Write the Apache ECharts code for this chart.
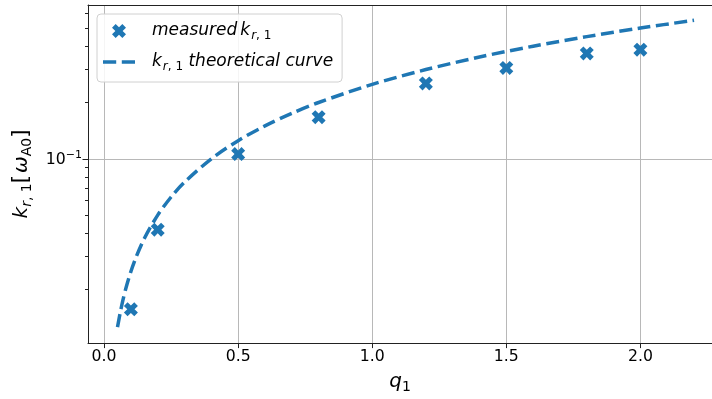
<!DOCTYPE html>
<html>
<head>
<meta charset="utf-8">
<script src="https://cdn.jsdelivr.net/npm/echarts@6/dist/echarts.min.js"></script>
<style>html,body{margin:0;padding:0;background:#fff}#c{width:712px;height:399px}</style>
</head>
<body>
<div id="c"></div>
<script>
// measured points
const qMeasured = [0.1, 0.2, 0.5, 0.8, 1.2, 1.5, 1.8, 2.0];
const kMeasured = [0.0157, 0.0418, 0.106, 0.167, 0.253, 0.306, 0.366, 0.383];
// theoretical curve
const qTheory = [0.05, 0.06, 0.07, 0.08, 0.1, 0.12, 0.15, 0.2, 0.25, 0.3, 0.4, 0.5, 0.6, 0.7, 0.8, 1.0, 1.2, 1.4, 1.6, 1.8, 2.0, 2.2];
const kTheory = [0.0126, 0.015, 0.0175, 0.02, 0.025, 0.03, 0.0375, 0.05, 0.0625, 0.075, 0.1, 0.125, 0.15, 0.175, 0.2, 0.25, 0.3, 0.35, 0.4, 0.45, 0.5, 0.55];
// ticks
const xTicks = [0, 0.5, 1.0, 1.5, 2.0];
const yMajorTicks = [0.1];
const yMinorTicks = [0.02, 0.03, 0.04, 0.05, 0.06, 0.07, 0.08, 0.09, 0.2, 0.3, 0.4, 0.5, 0.6];

const BLUE = '#1f77b4';
const FONT = 'DejaVu Sans';
const XPATH = 'path://M0,2.6 L2.6,0 L5,2.4 L7.4,0 L10,2.6 L7.6,5 L10,7.4 L7.4,10 L5,7.6 L2.6,10 L0,7.4 L2.4,5 Z';
const DASHICON = 'path://M0,0 L13,0 L13,3.5 L0,3.5 Z M18.5,0 L31.5,0 L31.5,3.5 L18.5,3.5 Z';
const XMIN = -0.06, XMAX = 2.267, YMIN = 0.01035, YMAX = 0.664;

const chart = echarts.init(document.getElementById('c'), null, {renderer: 'canvas'});
const legRich = {
  it: {fontFamily: FONT, fontStyle: 'italic', fontSize: 17, lineHeight: 22, color: '#000'},
  kk: {fontFamily: FONT, fontStyle: 'italic', fontSize: 17, lineHeight: 22, color: '#000', padding: [0, 0, 0, 3]},
  pad: {fontFamily: FONT, fontStyle: 'italic', fontSize: 17, lineHeight: 22, color: '#000', padding: [0, 0, 0, 12]},
  sub: {fontFamily: FONT, fontStyle: 'italic', fontSize: 12, lineHeight: 12, padding: [10, 0, 0, 1], color: '#000'},
  subu: {fontFamily: FONT, fontSize: 12, lineHeight: 12, padding: [10, 0, 0, 0], color: '#000'}
};
chart.setOption({
  animation: false,
  grid: {left: 88, right: 0, top: 5, bottom: 53, show: false},
  legend: {
    orient: 'vertical', left: 97, top: 14,
    padding: [6, 9, 9, 6], itemGap: 9,
    itemWidth: 32, itemHeight: 14,
    backgroundColor: 'rgba(255,255,255,0.85)', borderColor: '#d0d0d0', borderWidth: 1, borderRadius: 4,
    data: [{name: 'measured', icon: XPATH}, {name: 'theory', icon: DASHICON}],
    formatter: function (n) {
      if (n === 'measured') return '{pad|measured}{kk|k}{sub|r}{subu|, 1}';
      return '{pad|k}{sub|r}{subu|, 1}{it| theoretical curve}';
    },
    textStyle: {rich: legRich}
  },
  xAxis: [
    {
      type: 'value', min: XMIN, max: XMAX,
      axisLine: {show: true, onZero: false, lineStyle: {color: '#222', width: 1}},
      axisTick: {show: true, customValues: xTicks, length: 5, lineStyle: {color: '#222'}},
      axisLabel: {customValues: xTicks, formatter: v => v.toFixed(1), fontFamily: FONT, fontSize: 15.7, color: '#000', margin: 6},
      splitLine: {show: true, lineStyle: {color: '#b8b8b8', width: 1}},
      name: '{q|q}{s|1}', nameLocation: 'middle', nameGap: 24,
      nameTextStyle: {rich: {
        q: {fontFamily: FONT, fontStyle: 'italic', fontSize: 20, lineHeight: 24, color: '#000'},
        s: {fontFamily: FONT, fontSize: 14, lineHeight: 14, padding: [10, 0, 0, 0], color: '#000'}
      }}
    },
    {
      type: 'value', min: XMIN, max: XMAX, position: 'top',
      axisLine: {show: true, onZero: false, lineStyle: {color: '#222', width: 1}},
      axisTick: {show: false}, axisLabel: {show: false}, splitLine: {show: false}
    }
  ],
  yAxis: [
    {
      type: 'log', logBase: 10, min: YMIN, max: YMAX,
      axisLine: {show: true, onZero: false, lineStyle: {color: '#222', width: 1}},
      axisTick: {show: true, customValues: yMinorTicks, length: 3, lineStyle: {color: '#222'}},
      axisLabel: {show: false},
      splitLine: {show: false},
      name: '{k|k}{s|r}{su|, 1}{b|[}{w|ω}{su2|A0}{b|]}', nameLocation: 'middle', nameGap: 53, nameRotate: 90,
      nameTextStyle: {rich: {
        k: {fontFamily: FONT, fontStyle: 'italic', fontSize: 20, lineHeight: 26, color: '#000'},
        w: {fontFamily: FONT, fontStyle: 'italic', fontSize: 20, lineHeight: 26, color: '#000', padding: [0, 0, 0, 2]},
        b: {fontFamily: FONT, fontSize: 21, lineHeight: 26, color: '#000'},
        s: {fontFamily: FONT, fontStyle: 'italic', fontSize: 14, lineHeight: 14, padding: [11, 0, 0, 0], color: '#000'},
        su: {fontFamily: FONT, fontSize: 14, lineHeight: 14, padding: [11, 0, 0, 0], color: '#000'},
        su2: {fontFamily: FONT, fontSize: 14, lineHeight: 14, padding: [11, 0, 0, 0], color: '#000'}
      }}
    },
    {
      type: 'log', logBase: 10, min: YMIN, max: YMAX, position: 'left',
      axisLine: {show: false, onZero: false},
      axisTick: {show: true, customValues: yMajorTicks, length: 5.5, lineStyle: {color: '#222'}},
      axisLabel: {
        customValues: yMajorTicks, margin: 6,
        formatter: function () { return '{b|10}{e|−1}'; },
        rich: {
          b: {fontFamily: FONT, fontSize: 15.7, color: '#000', lineHeight: 20, padding: [3, 0, 0, 0]},
          e: {fontFamily: FONT, fontSize: 11, color: '#000', lineHeight: 11, padding: [0, 0, 8, 0]}
        }
      },
      splitLine: {show: true, lineStyle: {color: '#b8b8b8', width: 1}}
    }
  ],
  series: [
    {
      name: 'theory', type: 'line', yAxisIndex: 0,
      data: qTheory.map((q, i) => [q, kTheory[i]]),
      symbol: 'none', smooth: 0.3,
      lineStyle: {color: BLUE, width: 3.5, type: [13, 5.5], cap: 'butt'},
      itemStyle: {color: BLUE},
      z: 3
    },
    {
      name: 'measured', type: 'scatter', yAxisIndex: 0,
      data: qMeasured.map((q, i) => [q, kMeasured[i]]),
      symbol: XPATH, symbolSize: 14,
      itemStyle: {color: BLUE, opacity: 1},
      z: 4
    }
  ]
});
</script>
</body>
</html>
